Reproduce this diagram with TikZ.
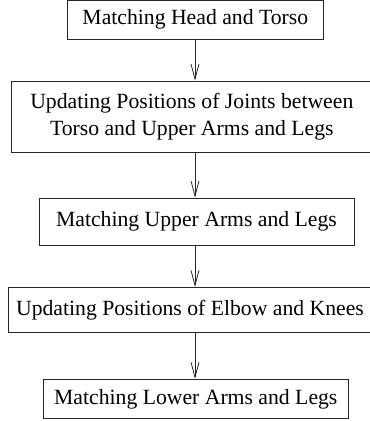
\documentclass[tikz,border=0pt]{standalone}
\usepackage{fontspec}
\setmainfont{Liberation Serif}
\usetikzlibrary{arrows.meta}
\begin{document}
\begin{tikzpicture}[x=1pt,y=-1pt,
  stepbox/.style={draw=black!85, line width=0.9pt, inner xsep=0pt, inner ysep=0pt,
    align=center, font=\fontsize{21.7}{27}\selectfont},
  flow/.style={draw=black!85, line width=0.8pt, -{Straight Barb[length=15pt,width=8pt,line width=0.8pt]}}]
\useasboundingbox (0,0) rectangle (370,421);
\node[stepbox, minimum width=255.5pt, minimum height=38.5pt] (b1) at (195.3,19.75) {Matching Head and Torso};
\node[stepbox, minimum width=361pt, minimum height=71.7pt] (b2) at (191.8,116.9) {Updating Positions of Joints between\\Torso and Upper Arms and Legs};
\node[stepbox, minimum width=315pt, minimum height=47pt] (b3) at (196.5,221.5) {Matching Upper Arms and Legs};
\node[stepbox, minimum width=364pt, minimum height=44.7pt] (b4) at (190,309.7) {Updating Positions of Elbow and Knees};
\node[stepbox, minimum width=305pt, minimum height=39.4pt] (b5) at (195.8,399) {Matching Lower Arms and Legs};
\coordinate (ax) at (195,0);
\draw[flow] (b1.south -| ax) -- (b2.north -| ax);
\draw[flow] (b2.south -| ax) -- (b3.north -| ax);
\draw[flow] (b3.south -| ax) -- (b4.north -| ax);
\draw[flow] (b4.south -| ax) -- (b5.north -| ax);
\end{tikzpicture}
\end{document}
